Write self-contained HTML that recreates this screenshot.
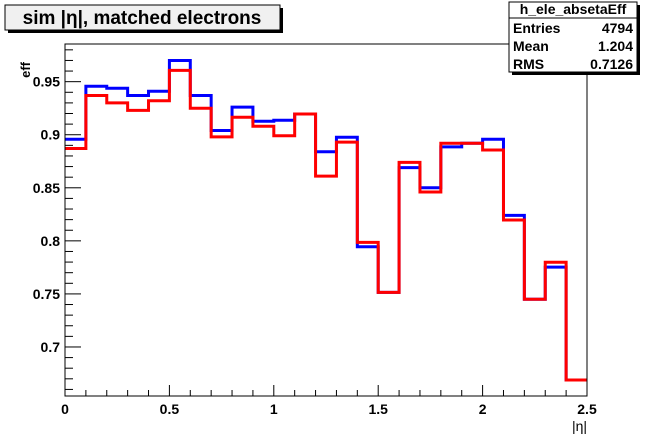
<!DOCTYPE html>
<html><head><meta charset="utf-8"><style>
body{margin:0;background:#fff;}
svg{display:block;font-family:"Liberation Sans",sans-serif;font-weight:bold;}
</style></head><body>
<svg id="c" width="653" height="441">
<rect x="0" y="0" width="653" height="441" fill="#fff"/>
<g id="plot"></g>
<rect x="8" y="8" width="275" height="25" fill="#000"/>
<rect x="5" y="5" width="275" height="25" fill="#f0f0f0" stroke="#000" stroke-width="1"/>
<text x="142" y="24" font-size="19" text-anchor="middle">sim |η|, matched electrons</text>
<rect x="512" y="5" width="128" height="70" fill="#000"/>
<rect x="509" y="2" width="128" height="70" fill="#fff" stroke="#000"/>
<line x1="509" y1="18" x2="637" y2="18" stroke="#000"/>
<text x="573" y="14" font-size="14" text-anchor="middle">h_ele_absetaEff</text>
<text x="513" y="33" font-size="14">Entries</text>
<text x="633" y="33" font-size="14" text-anchor="end">4794</text>
<text x="513" y="51" font-size="14">Mean</text>
<text x="633" y="51" font-size="14" text-anchor="end">1.204</text>
<text x="513" y="69" font-size="14">RMS</text>
<text x="633" y="69" font-size="14" text-anchor="end">0.7126</text>
<text x="30" y="62" font-size="13" transform="rotate(-90 30 62)" text-anchor="end">eff</text>
<text x="587" y="431" font-size="14" text-anchor="end" font-weight="normal">|η|</text>
</svg>
<script>
const binEdgesStart = 0, binWidth = 0.1;
const blueVals = [0.8957,0.9457,0.9438,0.937,0.941,0.970,0.937,0.904,0.926,0.9127,0.9136,0.9195,0.884,0.8976,0.7945,0.7515,0.869,0.850,0.8885,0.892,0.8957,0.824,0.745,0.7753,0.6689];
const redVals = [0.887,0.937,0.930,0.923,0.932,0.9607,0.925,0.898,0.9165,0.908,0.899,0.9195,0.861,0.893,0.7986,0.7515,0.874,0.846,0.892,0.892,0.8856,0.8197,0.745,0.7798,0.6689];
const xTicks = [0,0.5,1,1.5,2,2.5];
const xTickLabels = ["0","0.5","1","1.5","2","2.5"];
const yTicks = [0.7,0.75,0.8,0.85,0.9,0.95];
const yTickLabels = ["0.7","0.75","0.8","0.85","0.9","0.95"];
const L=65,R=587,T=44,B=396, xmin=0,xmax=2.5, ymin=0.6538, ymax=0.9855;
const X=v=>L+(v-xmin)/(xmax-xmin)*(R-L);
const Y=v=>B-(v-ymin)/(ymax-ymin)*(B-T);
const g=document.getElementById('plot'), NS='http://www.w3.org/2000/svg';
function mk(t,a){const e=document.createElementNS(NS,t);for(const k in a)e.setAttribute(k,a[k]);g.appendChild(e);return e;}
function hist(vals,color,name){
  let d='';
  vals.forEach((v,i)=>{const x0=X(binEdgesStart+i*binWidth),x1=X(binEdgesStart+(i+1)*binWidth);
    d+=(i===0?'M':'L')+x0+','+Y(v)+'L'+x1+','+Y(v);});
  const p=mk('path',{d:d,fill:'none',stroke:color,'stroke-width':3,'stroke-linejoin':'miter'});
  
  
}
hist(blueVals,'#0000ff','blue-series');
hist(redVals,'#ff0000','red-series');
const fr=mk('rect',{x:L,y:T,width:R-L,height:B-T,fill:'none',stroke:'#000','stroke-width':1});


for(let i=0;i<=25;i++){const v=i*0.1,major=i%5===0;
  const t=mk('line',{x1:X(v),x2:X(v),y1:B,y2:B-(major?11:6),stroke:'#000'});
  
  }
xTicks.forEach((v,i)=>{const t=mk('text',{x:X(v),y:B+18,'font-size':14,'text-anchor':'middle'});t.textContent=xTickLabels[i];
  
  });
for(let i=66;i<=98;i++){const v=i/100,major=i%5===0;
  const t=mk('line',{x1:L,x2:L+(major?16:8),y1:Y(v),y2:Y(v),stroke:'#000'});
  
  }
yTicks.forEach((v,i)=>{const t=mk('text',{x:L-5,y:Y(v)+5,'font-size':14,'text-anchor':'end'});t.textContent=yTickLabels[i];
  
  });
</script>
</body></html>
